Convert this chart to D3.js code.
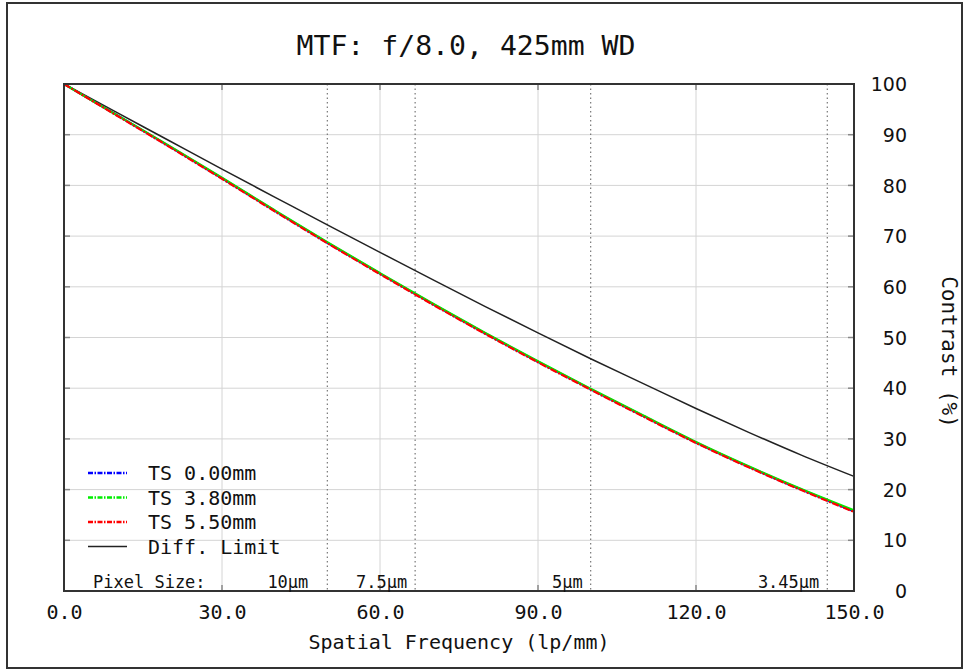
<!DOCTYPE html>
<html><head><meta charset="utf-8">
<script src="https://cdn.jsdelivr.net/npm/d3@7"></script>
<style>html,body{margin:0;padding:0;background:#fff;}</style>
</head><body>
<svg id="chart" width="969" height="672"></svg>
<script>
const title = "MTF: f/8.0, 425mm WD";
const freqs = [0,10,20,30,40,50,60,70,80,90,100,110,120,130,140,150];
const ts000 = [100,93.9,87.7,81.4,75.0,68.7,62.6,56.6,50.8,45.2,39.8,34.5,29.3,24.5,20.0,15.7];
const ts380 = [100,93.9,87.8,81.5,75.1,68.8,62.7,56.7,50.9,45.3,39.9,34.6,29.4,24.6,20.1,15.9];
const ts550 = [100,93.8,87.6,81.3,74.9,68.6,62.5,56.5,50.7,45.1,39.7,34.4,29.2,24.4,19.9,15.6];
const diffLimit = [100,94.4,88.8,83.2,77.7,72.2,66.8,61.4,56.1,50.9,45.8,40.9,36.0,31.3,26.8,22.6];
const seriesNames = ["TS 0.00mm","TS 3.80mm","TS 5.50mm","Diff. Limit"];
const seriesColors = ["#0000ff","#00ee00","#ff0000","#222222"];
const xTicks = [0,30,60,90,120,150];
const yTicks = [0,10,20,30,40,50,60,70,80,90,100];
const pixelSizes = ["10µm","7.5µm","5µm","3.45µm"];
const pixelFreqs = [50,66.67,100,144.93];

const svg = d3.select("#chart");
const M = {l:64, r:854, t:84, b:591};
const x = d3.scaleLinear().domain([0,150]).range([M.l,M.r]);
const y = d3.scaleLinear().domain([0,100]).range([M.b,M.t]);
const mono = "'DejaVu Sans Mono', monospace";

// outer frame
svg.append("rect").attr("x",7).attr("y",3).attr("width",955).attr("height",665)
  .attr("fill","none").attr("stroke","#333").attr("stroke-width",2);

// title
svg.append("text").attr("x",466).attr("y",55).attr("text-anchor","middle")
  .attr("font-family",mono).attr("font-size",26).attr("fill","#111")
  .attr("textLength",339).attr("lengthAdjust","spacingAndGlyphs").text(title);

// gridlines
const grid = svg.append("g");
grid.selectAll("line.gx").data(xTicks.slice(1,-1)).join("line")
  .attr("x1",d=>x(d)).attr("x2",d=>x(d)).attr("y1",M.t).attr("y2",M.b)
  .attr("stroke","#d4d4d4").attr("stroke-width",1);
grid.selectAll("line.gy").data(yTicks.slice(1,-1)).join("line")
  .attr("x1",M.l).attr("x2",M.r).attr("y1",d=>y(d)).attr("y2",d=>y(d))
  .attr("stroke","#d4d4d4").attr("stroke-width",1);

// pixel size dotted lines
grid.selectAll("line.px").data(pixelFreqs).join("line")
  .attr("x1",d=>x(d)).attr("x2",d=>x(d)).attr("y1",M.t).attr("y2",M.b)
  .attr("stroke","#777").attr("stroke-width",1.2).attr("stroke-dasharray","1.5,3");

// axes via d3
const xAxis = d3.axisBottom(x).tickValues(xTicks).tickFormat(d3.format(".1f")).tickSize(0).tickPadding(14);
const gx = svg.append("g").attr("transform",`translate(0,${M.b})`).call(xAxis);
gx.select(".domain").remove();
gx.selectAll("text").attr("font-family",mono).attr("font-size",20).attr("fill","#111");

const yAxis = d3.axisRight(y).tickValues(yTicks).tickSize(0).tickPadding(0);
const gy = svg.append("g").attr("transform",`translate(907,0)`).call(yAxis);
gy.select(".domain").remove();
gy.selectAll("text").attr("font-family","'DejaVu Sans', sans-serif").attr("font-size",19)
  .attr("fill","#111").attr("text-anchor","end").attr("dy","0.35em");

// inner tick marks
const tk = svg.append("g").attr("stroke","#888").attr("stroke-width",1.5);
yTicks.slice(1,-1).forEach(v=>{
  tk.append("line").attr("x1",M.l).attr("x2",M.l+6).attr("y1",y(v)).attr("y2",y(v));
  tk.append("line").attr("x1",M.r-6).attr("x2",M.r).attr("y1",y(v)).attr("y2",y(v));
});
xTicks.slice(1,-1).forEach(v=>{
  tk.append("line").attr("x1",x(v)).attr("x2",x(v)).attr("y1",M.t).attr("y2",M.t+6);
  tk.append("line").attr("x1",x(v)).attr("x2",x(v)).attr("y1",M.b-6).attr("y2",M.b);
});

// curves
const line = d3.line().x((d,i)=>x(freqs[i])).y(d=>y(d)).curve(d3.curveMonotoneX);
svg.append("path").datum(diffLimit).attr("d",line).attr("fill","none")
  .attr("stroke",seriesColors[3]).attr("stroke-width",1.5);
const lens = [ts000, ts380, ts550];
lens.forEach((s,i)=>{
  svg.append("path").datum(s).attr("d",line).attr("fill","none")
    .attr("stroke",seriesColors[i]).attr("stroke-width",2.2)
    .attr("stroke-dasharray", i===2 ? "7,1.5,2,1.5" : null);
});

// plot border
svg.append("rect").attr("x",M.l).attr("y",M.t).attr("width",M.r-M.l).attr("height",M.b-M.t)
  .attr("fill","none").attr("stroke","#333").attr("stroke-width",2);

// legend
const lg = svg.append("g");
seriesNames.forEach((n,i)=>{
  const yy = 473 + i*24.5;
  lg.append("line").attr("x1",88).attr("x2",127).attr("y1",yy).attr("y2",yy)
    .attr("stroke",seriesColors[i]).attr("stroke-width", i<3 ? 2.5 : 1.5)
    .attr("stroke-dasharray", i<3 ? "5,1.5,1.5,1.5" : null);
  lg.append("text").attr("x",148).attr("y",yy).attr("dy","0.36em")
    .attr("font-family",mono).attr("font-size",20).attr("fill","#111").text(n);
});

// pixel size labels
svg.append("text").attr("x",93).attr("y",588).attr("font-family",mono).attr("font-size",17)
  .attr("fill","#111").text("Pixel Size:");
svg.selectAll("text.pxl").data(pixelSizes).join("text")
  .attr("x",(d,i)=>x(pixelFreqs[i])-(i===0?19:8)).attr("y",588).attr("text-anchor","end")
  .attr("font-family",mono).attr("font-size",17).attr("fill","#111").text(d=>d);

// axis titles
svg.append("text").attr("x",459).attr("y",649).attr("text-anchor","middle")
  .attr("font-family",mono).attr("font-size",20).attr("fill","#111").text("Spatial Frequency (lp/mm)");
svg.append("text").attr("transform","translate(942,352) rotate(90)").attr("text-anchor","middle")
  .attr("font-family",mono).attr("font-size",21).attr("fill","#111").text("Contrast (%)");
</script>
</body></html>
